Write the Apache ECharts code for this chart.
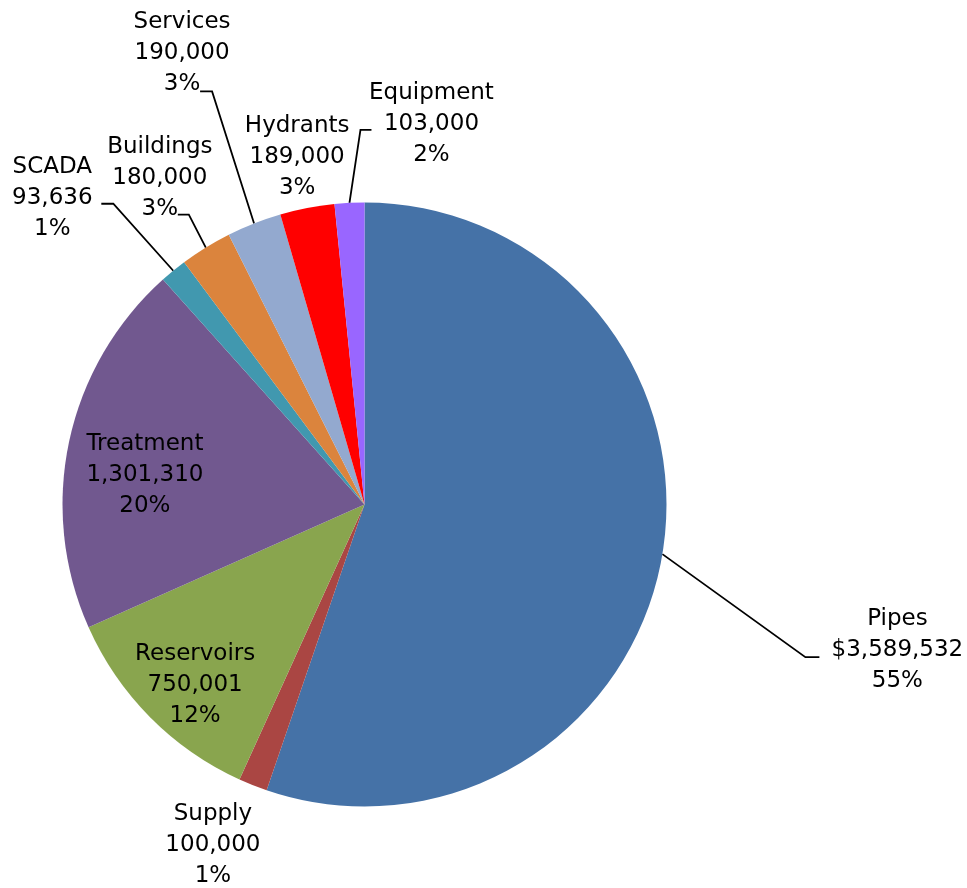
<!DOCTYPE html>
<html>
<head>
<meta charset="utf-8">
<title>Capital Cost by Asset Category</title>
<script src="https://cdn.jsdelivr.net/npm/echarts@6/dist/echarts.min.js"></script>
<style>
  html, body { margin: 0; padding: 0; background: #ffffff; }
  #chart { width: 967px; height: 888px; }
</style>
</head>
<body>
<div id="chart"></div>
<script>
// Asset categories, clockwise from 12 o'clock
const categories = ['Pipes', 'Supply', 'Reservoirs', 'Treatment', 'SCADA', 'Buildings', 'Services', 'Hydrants', 'Equipment'];
const costs = [3589532, 100000, 750001, 1301310, 93636, 180000, 190000, 189000, 103000];
const shareLabels = ['55%', '1%', '12%', '20%', '1%', '3%', '3%', '3%', '2%'];
const valuePrefixes = ['$', '', '', '', '', '', '', '', ''];

const sliceColors = ['#4572A7', '#AA4643', '#89A54E', '#71588F', '#4198AF', '#DB843D', '#93A9CF', '#FF0000', '#9966FF'];

// Leader-line and label placement, relative to the anchor ECharts computes for each slice
// bend: elbow offset from the slice edge, tail: horizontal run, text: label centre offset from line end
const labelPlacement = {
  Pipes:      { bend: [143, 103],  tail: 14,  text: [78, -7] },
  Supply:     { hidden: true, text: [-40, 60] },
  Reservoirs: { inside: true, text: [-60, 72] },
  Treatment:  { inside: true, text: [-69, 3] },
  SCADA:      { bend: [-60, -67],  tail: -12, text: [-49, -6] },
  Buildings:  { bend: [-17, -33],  tail: -11, text: [-18, -37] },
  Services:   { bend: [-42, -132], tail: -12, text: [-18, -38] },
  Hydrants:   { hidden: true, text: [-10, -51] },
  Equipment:  { bend: [11, -73],   tail: 11,  text: [60, -6] }
};

const pieData = categories.map((name, i) => {
  const p = labelPlacement[name];
  const item = {
    name: name,
    value: costs[i],
    itemStyle: { color: sliceColors[i] }
  };
  if (p.inside) {
    item.label = { position: 'inside' };
    item.labelLine = { show: false };
  } else if (p.hidden) {
    item.labelLine = { show: true, length: 10, length2: 0, lineStyle: { opacity: 0 } };
  }
  return item;
});

const chart = echarts.init(document.getElementById('chart'), null, { renderer: 'canvas' });

chart.setOption({
  backgroundColor: '#ffffff',
  animation: false,
  series: [{
    type: 'pie',
    center: [364.5, 504.5],
    radius: 302,
    startAngle: 90,
    clockwise: true,
    avoidLabelOverlap: false,
    data: pieData,
    itemStyle: { borderWidth: 0 },
    label: {
      show: true,
      position: 'outside',
      color: '#000000',
      fontFamily: 'DejaVu Sans',
      fontSize: 23,
      lineHeight: 31,
      textBorderWidth: 0,
      formatter: function (params) {
        const i = params.dataIndex;
        return params.name + '\n' + valuePrefixes[i] + costs[i].toLocaleString('en-US') + '\n' + shareLabels[i];
      }
    },
    labelLine: {
      show: true,
      length: 20,
      length2: 10,
      smooth: false,
      lineStyle: { color: '#000000', width: 1.8 }
    },
    emphasis: { disabled: true },
    labelLayout: function (params) {
      const name = categories[params.dataIndex];
      const p = labelPlacement[name];
      const pts = params.labelLinePoints;
      if (p.inside || !pts) {
        const r = params.labelRect;
        return {
          x: r.x + r.width / 2 + p.text[0],
          y: r.y + r.height / 2 + p.text[1],
          align: 'center',
          verticalAlign: 'middle'
        };
      }
      const edge = pts[0];
      if (p.hidden) {
        return {
          x: edge[0] + p.text[0],
          y: edge[1] + p.text[1],
          align: 'center',
          verticalAlign: 'middle'
        };
      }
      const bend = [edge[0] + p.bend[0], edge[1] + p.bend[1]];
      const end = [bend[0] + p.tail, bend[1]];
      return {
        x: end[0] + p.text[0],
        y: end[1] + p.text[1],
        align: 'center',
        verticalAlign: 'middle',
        labelLinePoints: [edge, bend, end]
      };
    }
  }]
});
</script>
</body>
</html>
